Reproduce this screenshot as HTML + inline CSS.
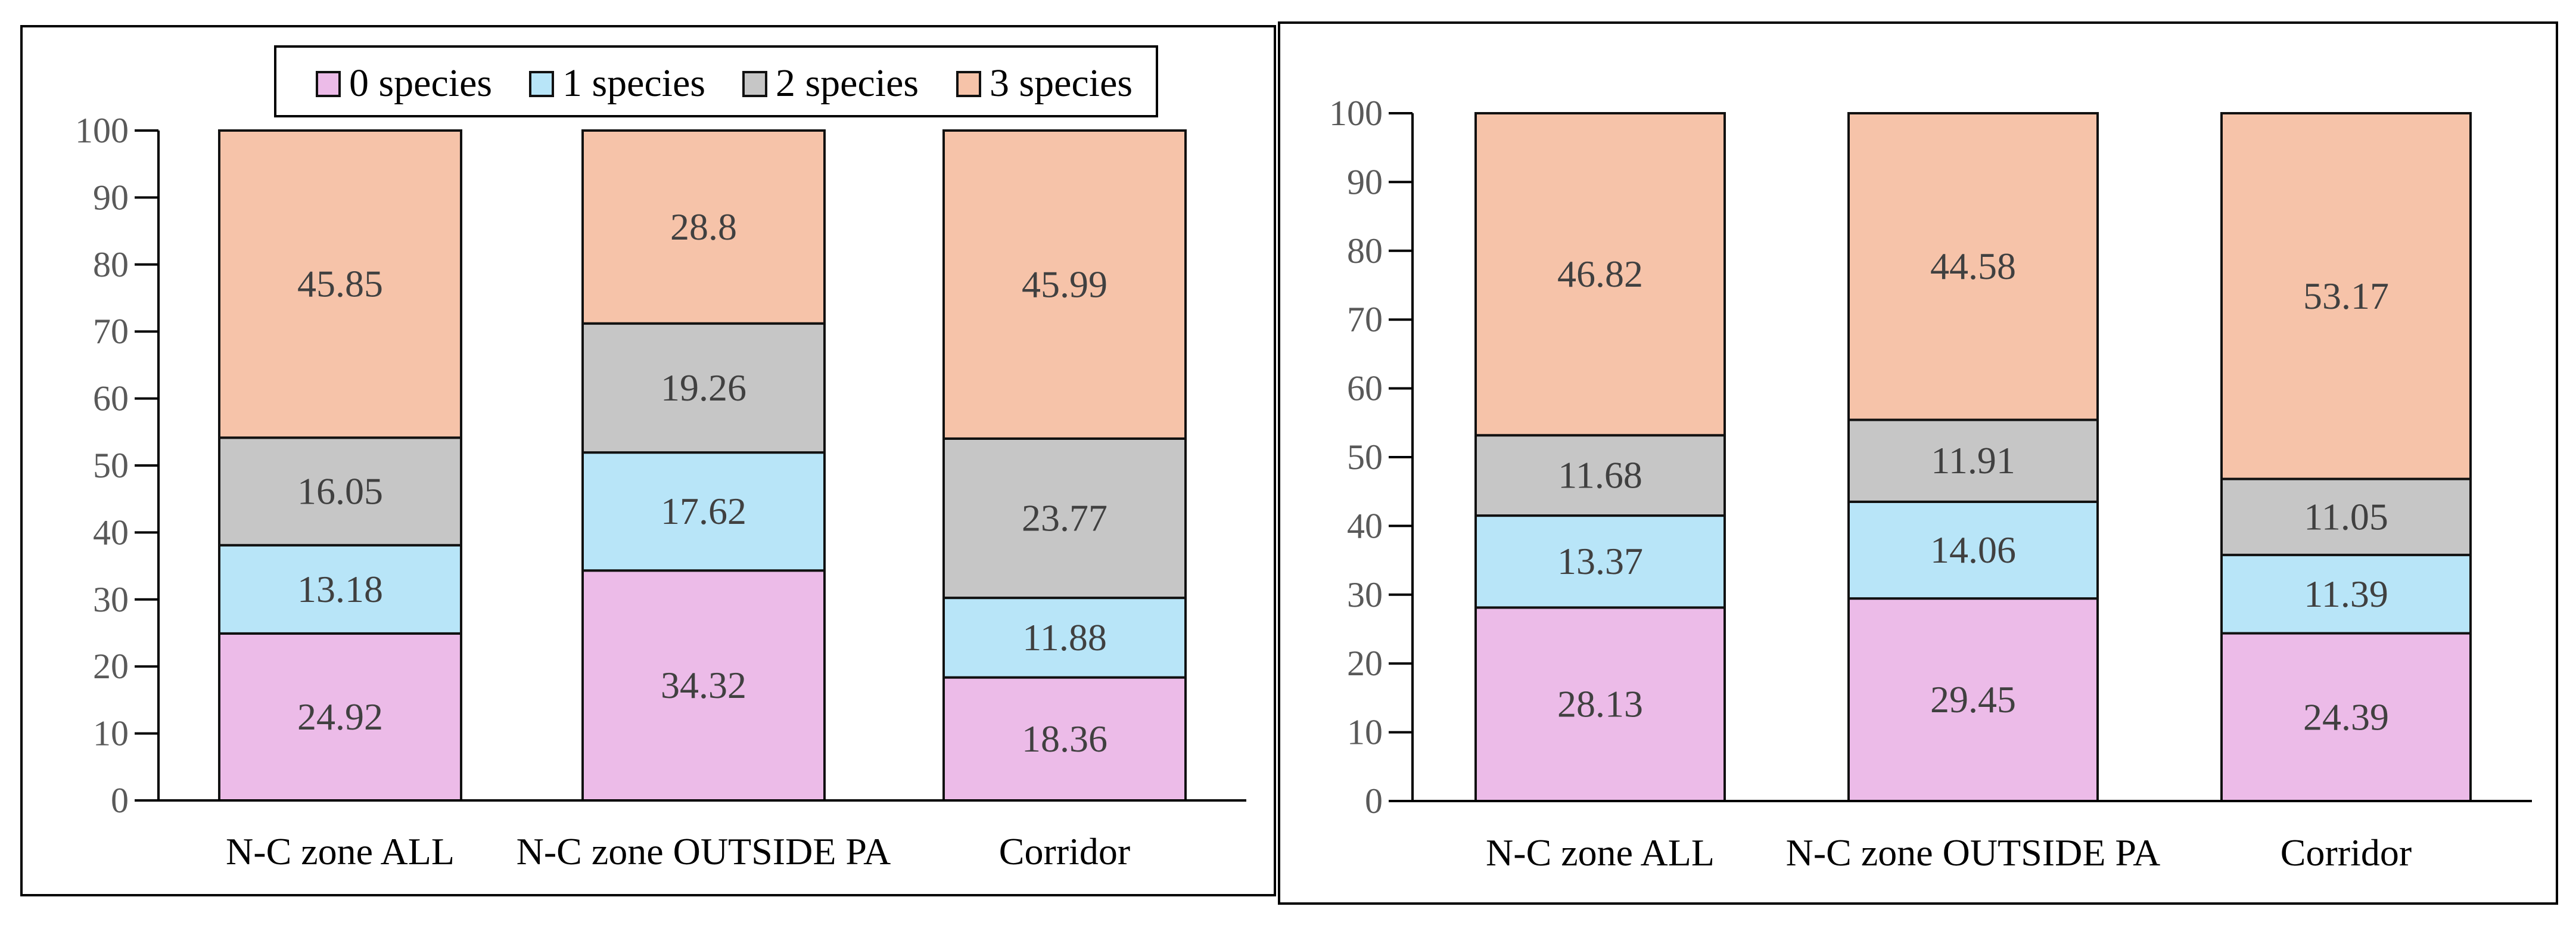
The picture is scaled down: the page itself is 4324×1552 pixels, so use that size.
<!DOCTYPE html>
<html><head><meta charset="utf-8">
<style>
html,body{margin:0;padding:0;background:#fff;}
svg{display:block;}
svg text{font-family:"Liberation Serif","DejaVu Serif","Noto Serif CJK SC",serif;}
</style></head>
<body>
<svg id="c" width="4324" height="1552" viewBox="0 0 4324 1552" xmlns="http://www.w3.org/2000/svg"></svg>
<script>
const categories = ["N-C zone ALL", "N-C zone OUTSIDE PA", "Corridor"];
const seriesNames = ["0 species", "1 species", "2 species", "3 species"];
const leftS0 = [24.92, 34.32, 18.36];
const leftS1 = [13.18, 17.62, 11.88];
const leftS2 = [16.05, 19.26, 23.77];
const leftS3 = [45.85, 28.8, 45.99];
const rightS0 = [28.13, 29.45, 24.39];
const rightS1 = [13.37, 14.06, 11.39];
const rightS2 = [11.68, 11.91, 11.05];
const rightS3 = [46.82, 44.58, 53.17];
const yTicks = [0, 10, 20, 30, 40, 50, 60, 70, 80, 90, 100];
const colors = ["#ecbbe8", "#b8e5f8", "#c6c6c6", "#f6c3a9"];
const NS = "http://www.w3.org/2000/svg";
const svg = document.getElementById('c');
function mk(tag, attrs, parent) {
  const e = document.createElementNS(NS, tag);
  for (const k in attrs) e.setAttribute(k, attrs[k]);
  if (tag === 'text') e.style.fontFamily = '"Liberation Serif","DejaVu Serif","Noto Serif CJK SC",serif';
  (parent || svg).appendChild(e);
  return e;
}
function panel(cfg, series, name) {
  const g = mk('g', {});
  
  
  const border = mk('rect', {x: cfg.bx, y: cfg.by, width: cfg.bw, height: cfg.bh, fill: 'none', stroke: '#000', 'stroke-width': 4}, g);
  
  
  const yS = v => cfg.y0 + (cfg.y100 - cfg.y0) * v / 100;
  const ax = mk('line', {x1: cfg.ax, y1: yS(100), x2: cfg.ax, y2: yS(0), stroke: '#000', 'stroke-width': 4}, g);
  
  
  yTicks.forEach(t => {
    const tk = mk('line', {x1: cfg.ax - 40, y1: yS(t), x2: cfg.ax, y2: yS(t), stroke: '#000', 'stroke-width': 4}, g);
    
    
    const tl = mk('text', {x: cfg.ax - 50, y: yS(t) + 20, 'text-anchor': 'end', 'font-size': 60, fill: '#595959'}, g);
    tl.textContent = t;
    
    
  });
  categories.forEach((cat, i) => {
    const x = cfg.barX[i];
    let cum = 0;
    series.forEach((s, si) => {
      const v = s[i];
      const top = yS(cum + v), bot = yS(cum);
      const r = mk('rect', {x: x, y: top, width: cfg.barW, height: bot - top, fill: colors[si], stroke: '#111', 'stroke-width': 4}, g);
      
      
      const t = mk('text', {x: x + cfg.barW / 2, y: (top + bot) / 2 + 21, 'text-anchor': 'middle', 'font-size': 64, fill: '#404040'}, g);
      t.textContent = v;
      
      
      cum += v;
    });
    const cl = mk('text', {x: x + cfg.barW / 2, y: cfg.catY, 'text-anchor': 'middle', 'font-size': 64, fill: '#000'}, g);
    cl.textContent = cat;
    
    
  });
  const xa = mk('line', {x1: cfg.ax - 40, y1: yS(0), x2: cfg.axEnd, y2: yS(0), stroke: '#000', 'stroke-width': 4}, g);
  
  
}
panel({bx: 36, by: 44, bw: 2104, bh: 1458, ax: 266, y0: 1343, y100: 219, barX: [368, 978, 1584], barW: 406, axEnd: 2092, catY: 1450}, [leftS0, leftS1, leftS2, leftS3], 'left-chart');
panel({bx: 2147, by: 38, bw: 2145, bh: 1478, ax: 2371, y0: 1344, y100: 190, barX: [2477, 3103, 3729], barW: 418, axEnd: 4250, catY: 1452}, [rightS0, rightS1, rightS2, rightS3], 'right-chart');
const lg = mk('g', {});


const lb = mk('rect', {x: 462, y: 78, width: 1480, height: 117, fill: '#fff', stroke: '#000', 'stroke-width': 4}, lg);


const legX = [532, 890, 1248, 1607];
seriesNames.forEach((n, i) => {
  const sw = mk('rect', {x: legX[i], y: 121, width: 38, height: 40, fill: colors[i], stroke: '#111', 'stroke-width': 4}, lg);
  
  
  const t = mk('text', {x: legX[i] + 54, y: 161, 'font-size': 66, fill: '#000'}, lg);
  t.textContent = n;
  
  
});
</script>
</body></html>
